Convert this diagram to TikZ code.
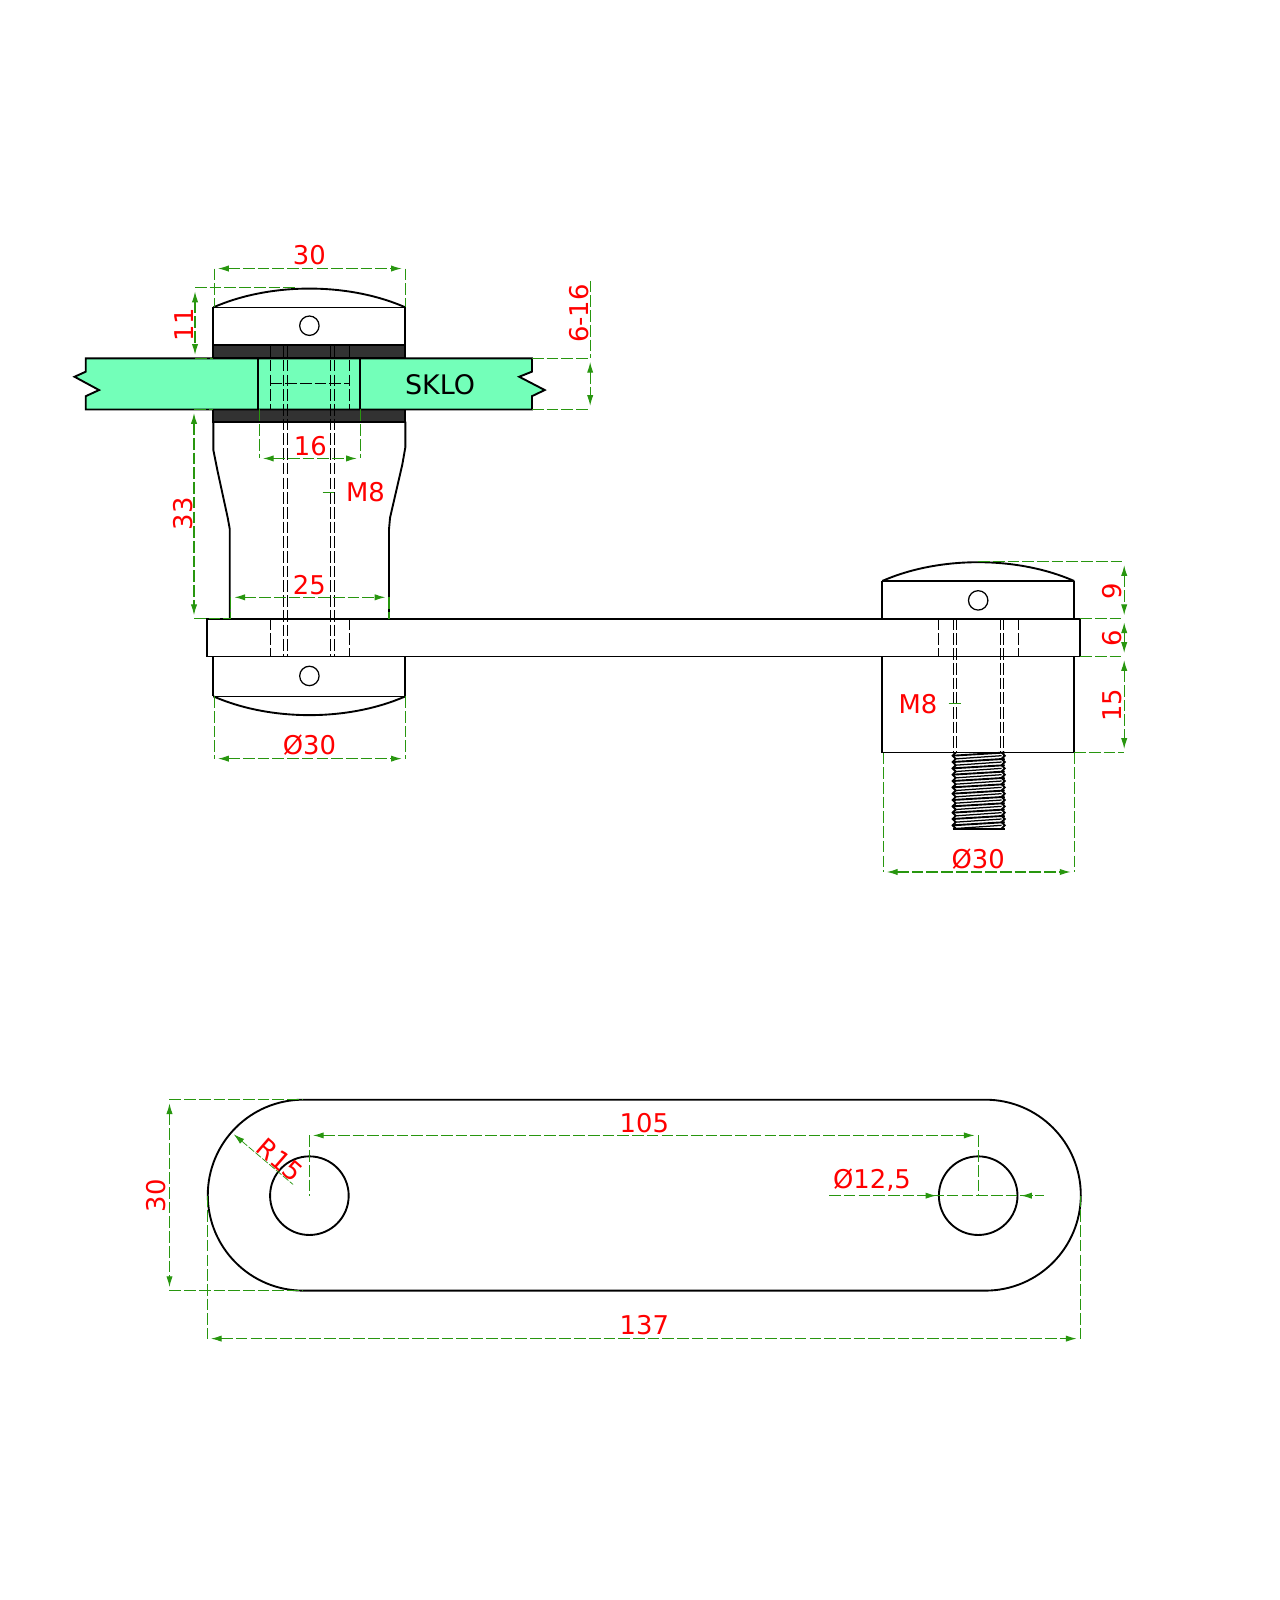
\documentclass[tikz,border=0pt]{standalone}
\usepackage{fontspec}
\setmainfont{DejaVu Sans}
\usetikzlibrary{arrows.meta}
\definecolor{dimgreen}{RGB}{40,150,15}
\definecolor{glass}{RGB}{115,255,185}
\definecolor{rubber}{RGB}{50,50,50}
\tikzset{
	part/.style={black,line width=1.05pt},
	fine/.style={black,line width=0.7pt},
	hidden/.style={black,line width=0.55pt,dash pattern=on 6.5pt off 1.7pt},
	extline/.style={dimgreen,line width=0.6pt,dash pattern=on 6.5pt off 1.7pt},
	dimline/.style={extline,{Latex[length=6pt,width=3.5pt]}-{Latex[length=6pt,width=3.5pt]},shorten <=2pt,shorten >=2pt},
	dimtext/.style={red,font=\fontsize{14.4}{15}\selectfont,inner sep=0pt},
}
\begin{document}
\begin{tikzpicture}[x=0.02cm,y=-0.02cm]
	\useasboundingbox (0,0) rectangle (1253.6,1567);
	\fill[white] (0,0) rectangle (1253.6,1567);

	\draw[part] (209,301) -- (209,338);
	\draw[part] (397,301) -- (397,338);
	\draw[part] (209,301) .. controls (265,276.5) and (341,276.5) .. (397,301);
	\draw[fine] (209,301) -- (397,301);
	\draw[fine] (303,319) circle (9.5);
	\filldraw[part,fill=rubber] (209,338) rectangle (397,351);
	\filldraw[part,fill=rubber] (209,401) rectangle (397,413);
	\filldraw[part,fill=glass] (84,351) -- (521,351) -- (521,364) -- (508.5,369) -- (533.5,382) -- (521,388) -- (521,401) -- (84,401) -- (84,388) -- (97,382) -- (73,369) -- (84,364) -- cycle;
	\draw[part] (253,351) -- (253,401);
	\draw[part] (353,351) -- (353,401);
	\node[inner sep=0pt,font=\fontsize{15}{16}\selectfont] (sklo) at (431,377) {SKLO};
	\draw[hidden] (265,338) -- (265,401);
	\draw[hidden] (342,338) -- (342,401);
	\draw[hidden] (265,376) -- (342,376);
	\foreach \x in {278,282,324,328}
		\draw[hidden] (\x,338) -- (\x,643);

	\draw[part] (209,413) -- (209,441) -- (213,461) -- (223,507) -- (225,518) -- (225,606);
	\draw[part] (397,413) -- (397,438) -- (394,455) -- (382,507) -- (381,518) -- (381,606);
	\draw[part] (203,606) rectangle (1058,643);
	\foreach \x in {265,342,919,997.5}
		\draw[hidden] (\x,606) -- (\x,643);

	\draw[part] (209,643) -- (209,682);
	\draw[part] (397,643) -- (397,682);
	\draw[part] (209,682) .. controls (265,706.5) and (341,706.5) .. (397,682);
	\draw[fine] (209,682) -- (397,682);
	\draw[fine] (303,662) circle (9.5);

	\draw[part] (864,606) -- (864,569);
	\draw[part] (1052,606) -- (1052,569);
	\draw[part] (864,569) .. controls (920,544.5) and (996,544.5) .. (1052,569);
	\draw[fine] (864,569) -- (1052,569);
	\draw[fine] (958,588) circle (9.5);
	\draw[part] (864,643) rectangle (1052,737);
	\foreach \x in {934,937,980,983}
		\draw[hidden] (\x,606) -- (\x,737);
	\foreach \t [evaluate=\t as \y using 737+6.2*\t] in {0,...,11} {
		\draw[part] (936,\y) -- (933,\y+3.1) -- (936,\y+6.2);
		\draw[part] (981,\y) -- (984,\y+3.1) -- (981,\y+6.2);
		\draw[part] (933,\y+3.1) -- (984,\y);
		\draw[fine] (936,\y+6.2) -- (981,\y+3.1);
	}
	\draw[part] (933,812) -- (984,812);

	\draw[part] (297,1077) -- (965,1077) arc (-90:90:93.5) -- (297,1264) arc (90:270:93.5);
	\draw[part] (303,1171) circle (38.5);
	\draw[part] (958,1171) circle (38.5);

	\draw[extline] (210,263) -- (210,301);
	\draw[extline] (397,263) -- (397,301);
	\draw[dimline] (210,263) -- (397,263);
	\node[dimtext] (top30) at (303,250) {30};

	\draw[extline] (191,282) -- (290,282);
	\draw[extline] (191,351) -- (209,351);
	\draw[dimline] (191,282) -- (191,351);
	\node[dimtext,rotate=90] (top11) at (180,318) {11};

	\draw[extline] (521,351) -- (578,351);
	\draw[extline] (521,401) -- (578,401);
	\draw[extline] (578,275) -- (578,351);
	\draw[dimline] (578,351) -- (578,401);
	\node[dimtext,rotate=90] (glass616) at (567,307) {6-16};

	\draw[extline] (190,401) -- (209,401);
	\draw[extline] (190,606) -- (225,606);
	\draw[dimline] (190,401) -- (190,606);
	\node[dimtext,rotate=90] (body33) at (179,503) {33};

	\draw[extline] (254,401) -- (254,449);
	\draw[extline] (353,401) -- (353,449);
	\draw[dimline] (254,449) -- (353,449);
	\node[dimtext] (hole16) at (304,437) {16};

	\draw[dimgreen,line width=0.4pt] (316,482) -- (327,482);
	\node[dimtext] (leftm8) at (358,482) {M8};

	\draw[extline] (226,585) -- (226,606);
	\draw[extline] (381,585) -- (381,606);
	\draw[dimline] (226,585) -- (381,585);
	\node[dimtext] (neck25) at (303,573) {25};

	\draw[extline] (210,682) -- (210,743);
	\draw[extline] (397,682) -- (397,743);
	\draw[dimline] (210,743) -- (397,743);
	\node[dimtext] (leftdia) at (303,730) {Ø30};

	\draw[extline] (958,550) -- (1101,550);
	\draw[extline] (1058,606) -- (1101,606);
	\draw[extline] (1058,643) -- (1101,643);
	\draw[extline] (1052,737) -- (1101,737);
	\draw[dimline] (1101,550) -- (1101,606);
	\draw[dimline] (1101,606) -- (1101,643);
	\draw[dimline] (1101,643) -- (1101,737);
	\node[dimtext,rotate=90] (right9) at (1089,579) {9};
	\node[dimtext,rotate=90] (right6) at (1089,625) {6};
	\node[dimtext,rotate=90] (right15) at (1089,691) {15};

	\draw[dimgreen,line width=0.4pt] (929,689) -- (941,689);
	\node[dimtext] (rightm8) at (899,690) {M8};

	\draw[extline] (865,737) -- (865,854);
	\draw[extline] (1052,737) -- (1052,854);
	\draw[dimline] (865,854) -- (1052,854);
	\node[dimtext] (rightdia) at (958,841) {Ø30};

	\draw[extline] (166,1077) -- (297,1077);
	\draw[extline] (166,1264) -- (297,1264);
	\draw[dimline] (166,1077) -- (166,1264);
	\node[dimtext,rotate=90] (plate30) at (153,1171) {30};

	\draw[extline] (203,1171) -- (203,1311);
	\draw[extline] (1058,1171) -- (1058,1311);
	\draw[dimline] (203,1311) -- (1058,1311);
	\node[dimtext] (plate137) at (631,1298) {137};

	\draw[extline] (303,1112) -- (303,1171);
	\draw[extline] (958,1112) -- (958,1171);
	\draw[dimline] (303,1112) -- (958,1112);
	\node[dimtext] (plate105) at (631,1100) {105};

	\draw[dimgreen,line width=0.4pt,dash pattern=on 4pt off 1pt,{Latex[length=6pt,width=3.5pt]}-] (229,1111) -- (287,1160);
	\node[dimtext,rotate=-41] (plater15) at (274,1136) {R15};

	\draw[extline] (812,1171) -- (1022,1171);
	\draw[dimgreen,{Latex[length=6pt,width=3.5pt]}-,line width=0.6pt] (917,1171) -- (905,1171);
	\draw[dimgreen,{Latex[length=6pt,width=3.5pt]}-,line width=0.6pt] (1000,1171) -- (1012,1171);
	\node[dimtext] (platehole) at (854,1156) {Ø12,5};
\end{tikzpicture}
\end{document}
